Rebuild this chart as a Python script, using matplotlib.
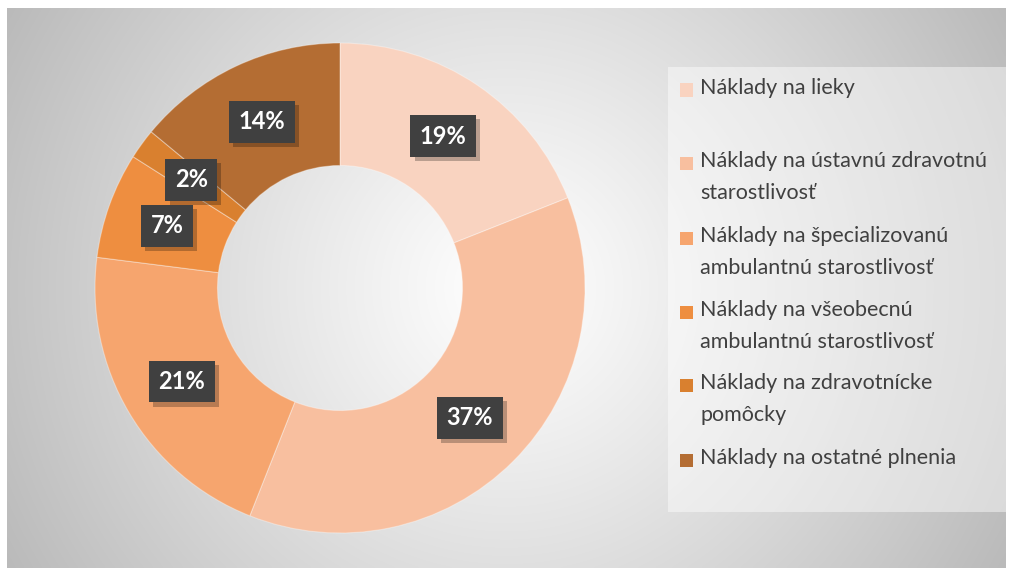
import numpy as np
import matplotlib
matplotlib.use("Agg")
import matplotlib.pyplot as plt
from matplotlib.patches import Rectangle
import matplotlib.patheffects as pe

# ---- data ----
categories = [
    "Náklady na lieky",
    "Náklady na ústavnú zdravotnú\nstarostlivosť",
    "Náklady na špecializovanú\nambulantnú starostlivosť",
    "Náklady na všeobecnú\nambulantnú starostlivosť",
    "Náklady na zdravotnícke\npomôcky",
    "Náklady na ostatné plnenia",
]
values = [19, 37, 21, 7, 2, 14]
colors = ["#F9D3C0", "#F8BF9F", "#F6A56E", "#EE8E40", "#D9802F", "#B46D33"]

W, H = 1011, 568
DPI = 100
FONT = ["Lato", "DejaVu Sans"]

fig = plt.figure(figsize=(W / DPI, H / DPI), dpi=DPI)
fig.patch.set_facecolor("white")

def fx(px):
    return px / W

def fy(py):  # py measured from top
    return 1 - py / H

# ---- background radial gradient ----
bx0, bx1, by0, by1 = 7, 1006, 8, 568
bg = fig.add_axes([fx(bx0), fy(by1), fx(bx1 - bx0), (by1 - by0) / H])
bg.set_axis_off()
nx, ny = 400, 225
xx, yy = np.meshgrid(np.linspace(-1, 1, nx), np.linspace(-1, 1, ny))
ratio = (bx1 - bx0) / (by1 - by0)
r = np.sqrt((xx * ratio) ** 2 + yy ** 2) / np.sqrt(ratio ** 2 + 1)
shade = 1.0 - 0.27 * np.clip(r, 0, 1) ** 1.1
img = np.dstack([shade, shade, shade])
bg.imshow(img, aspect="auto", extent=[0, 1, 0, 1], interpolation="bilinear")
bg.set_xlim(0, 1)
bg.set_ylim(0, 1)

# legend box overlay
lx0, lx1, ly0, ly1 = 668, 1006, 67, 512
bg_leg = fig.add_axes([fx(lx0), fy(ly1), fx(lx1 - lx0), (ly1 - ly0) / H])
bg_leg.set_axis_off()
bg_leg.add_patch(Rectangle((0, 0), 1, 1, transform=bg_leg.transAxes,
                           facecolor="white", alpha=0.45, edgecolor="none"))

# ---- donut ----
cx, cy, R = 340, 288, 245
ax = fig.add_axes([fx(cx - R), fy(cy + R), fx(2 * R), 2 * R / H])
ax.set_axis_off()
wedges, _ = ax.pie(values, colors=colors, startangle=90, counterclock=False,
                   radius=1.0,
                   wedgeprops=dict(width=0.5, edgecolor=(1, 1, 1, 0.35), linewidth=0.8))
ax.set_xlim(-1, 1)
ax.set_ylim(-1, 1)
ax.set_aspect("equal")

total = float(sum(values))
cum = 0.0
for v in values:
    mid = (cum + v / 2) / total
    cum += v
    ang = np.deg2rad(90 - 360 * mid)
    x, y = 0.75 * np.cos(ang), 0.75 * np.sin(ang)
    t = ax.text(x, y, f"{v}%", ha="center", va="center", fontsize=17,
                fontweight="bold", family=FONT, color="white",
                bbox=dict(boxstyle="square,pad=0.4", facecolor="#404040",
                          edgecolor="none"))
    t.get_bbox_patch().set_path_effects(
        [pe.SimplePatchShadow(offset=(3, -3), shadow_rgbFace="black", alpha=0.25),
         pe.Normal()])

# ---- legend (manual, colours from wedges) ----
entry_y = [90, 163, 238, 312, 385, 460]
for w, lab, ty in zip(wedges, categories, entry_y):
    fig.patches.append(Rectangle((fx(680), fy(ty + 6.5)), fx(13), 13 / H,
                                 transform=fig.transFigure,
                                 facecolor=w.get_facecolor(), edgecolor="none"))
    fig.text(fx(700), fy(ty - 12), lab, ha="left", va="top",
             fontsize=15.5, family=FONT, color="#404040", linespacing=1.72)

fig.savefig("out.png", dpi=DPI)
